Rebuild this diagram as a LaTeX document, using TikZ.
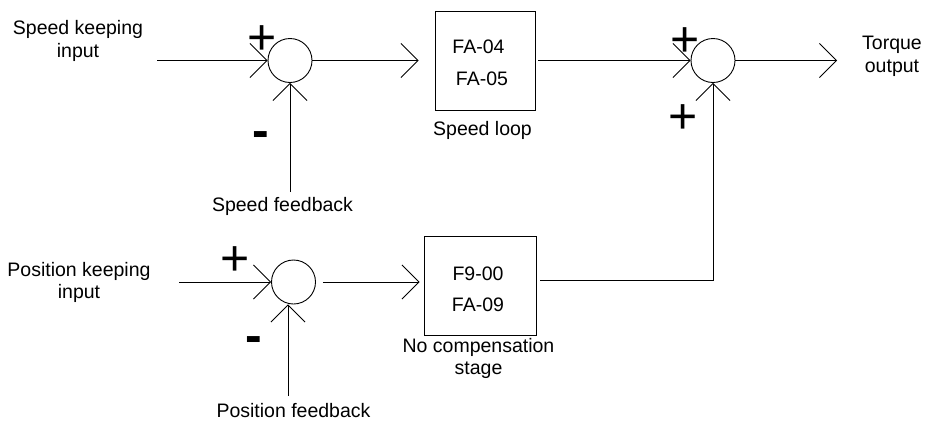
\documentclass[tikz,border=0pt]{standalone}
\usepackage{fontspec}
\setmainfont{Liberation Sans}
\usetikzlibrary{arrows.meta}
\begin{document}
\begin{tikzpicture}[x=1pt,y=-1pt,
  line width=0.9pt,
  arr/.style={-{Straight Barb[length=17pt,width=34pt,line width=0.8pt]}},
  sum/.style={draw,circle,minimum size=44pt,inner sep=0pt},
  blk/.style={draw,rectangle,inner sep=0pt},
  lbl/.style={font=\fontsize{19.5}{22.5}\selectfont,inner sep=0pt,align=center},
  sgn/.style={font=\fontsize{50}{50}\selectfont,inner sep=0pt},
  sgnm/.style={font=\fontsize{50}{50}\selectfont\bfseries,inner sep=0pt},
  ]
\useasboundingbox (0,0) rectangle (928,421);

% summing junctions
\node[sum] (s1) at (290,60.5) {};
\node[sum] (s2) at (713,60.5) {};
\node[sum] (s3) at (293.5,282) {};

% blocks
\node[blk,minimum width=100pt,minimum height=99pt] (b1) at (485,60.5) {};
\node[blk,minimum width=112pt,minimum height=99pt] (b2) at (480,285.5) {};

% block contents
\node[lbl,anchor=base] (pa) at (478.5,53.3) {FA-04};
\node[lbl,anchor=base] (pb) at (482,85.7) {FA-05};
\node[lbl,anchor=base] (pc) at (478,280.7) {F9-00};
\node[lbl,anchor=base] (pd) at (478,311) {FA-09};

% labels
\node[lbl,anchor=north] (tin1) at (78,20.4) {Speed keeping\\input};
\node[lbl,anchor=north] (tin3) at (79,261.5) {Position keeping\\input};
\node[lbl,anchor=base] (tfb1) at (282.5,211.5) {Speed feedback};
\node[lbl,anchor=base] (tfb3) at (293.5,417) {Position feedback};
\node[lbl,anchor=base] (tb1) at (482.5,135.7) {Speed loop};
\node[lbl,anchor=north] (tb2) at (478.5,337.5) {No compensation\\stage};
\node[lbl,anchor=north] (tout) at (892,35.7) {Torque\\output};

% signs
\node[sgn] (sp1) at (262.5,40) {+};
\node[sgn] (sp2) at (684.7,42) {+};
\node[sgn] (sp3) at (682.8,119.5) {+};
\node[sgn] (sp4) at (235,261.3) {+};
\node[sgnm] (sm1) at (260.5,139.5) {-};
\node[sgnm] (sm2) at (253.5,344.5) {-};

% free ends
\coordinate (in1) at (157,60.5);
\coordinate (fb1) at (290,192);
\coordinate (in3) at (179,282);
\coordinate (fb3) at (288,396);
\coordinate (out) at (837,60.5);
\coordinate (corner) at (713,280);

% connectors
\draw[arr] (in1) -- (s1.west);
\draw[arr] (fb1) -- (s1.south);
\draw[arr,shorten >=16pt] (s1.east) -- (b1.west);
\draw[arr,shorten <=3pt] (b1.east) -- (s2.west);
\draw[arr] (s2.east) -- (out);
\draw[arr] (in3) -- (s3.west);
\draw[arr] (fb3) -- (s3.south -| fb3);
\draw[arr,shorten <=7pt,shorten >=4pt] (s3.east) -- (s3.east -| b2.west);
\draw[arr,shorten <=4pt] (b2.east |- corner) -- (corner) -- (s2.south);
\end{tikzpicture}
\end{document}
